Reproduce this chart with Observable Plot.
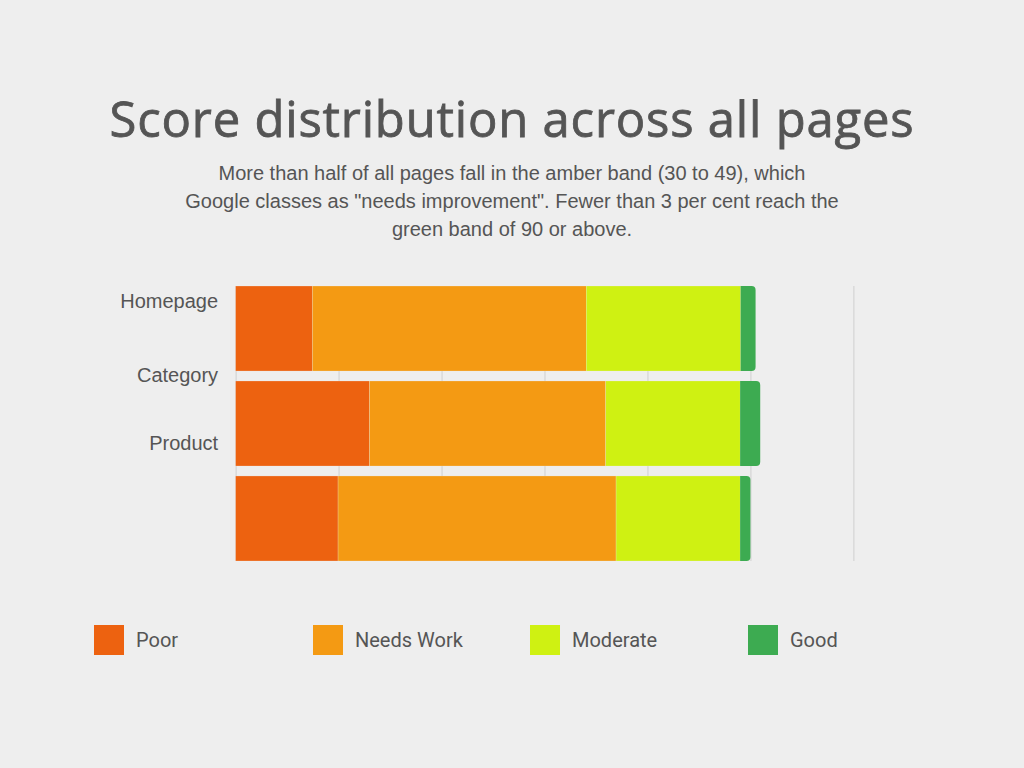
<!DOCTYPE html>
<html>
<head>
<meta charset="utf-8">
<script src="https://cdn.jsdelivr.net/npm/d3@7"></script>
<script src="https://cdn.jsdelivr.net/npm/@observablehq/plot@0.6"></script>
<style>
  html, body { margin: 0; padding: 0; background: #eeeeee; }
  body { width: 1024px; height: 768px; position: relative; overflow: hidden; }
  #title { position: absolute; left: 0; width: 1024px; top: 85px; text-align: center;
    font-family: "Open Sans", sans-serif; font-weight: 400; font-size: 49px; color: #555555; letter-spacing: 0.8px;
    -webkit-text-stroke: 0.8px #555555; }
  #subtitle { position: absolute; left: 0; width: 1024px; top: 159px; text-align: center;
    font-family: "Liberation Sans", Arial, sans-serif; font-size: 20px; line-height: 28px; color: #555555; }
  #chart { position: absolute; left: 0; top: 0; }
  #legend { position: absolute; top: 625px; left: 0; width: 1024px; height: 30px;
    font-family: Roboto, sans-serif; font-size: 20px; color: #555555; }
  .item { position: absolute; top: 0; height: 30px; display: flex; align-items: center; }
  .sw { width: 30px; height: 30px; margin-right: 12px; }
</style>
</head>
<body>
<div id="title">Score distribution across all pages</div>
<div id="subtitle">More than half of all pages fall in the amber band (30 to 49), which<br>Google classes as "needs improvement". Fewer than 3 per cent reach the<br>green band of 90 or above.</div>
<div id="chart"></div>
<div id="legend"></div>
<script>
const pageTypes = ["Homepage", "Category", "Product"];
const bands = ["Poor", "Needs Work", "Moderate", "Good"];
const bandColors = ["#ED6210", "#F49A13", "#CFF112", "#3DAB51"];
const poor      = [14.9, 26.0, 19.9];
const needsWork = [53.2, 45.9, 54.0];
const moderate  = [30.0, 26.1, 24.1];
const good      = [2.9, 3.9, 2.0];
const xTicks = [0, 20, 40, 60, 80, 100, 120];

// build stacked table from the arrays
const series = [poor, needsWork, moderate, good];
const rows = [];
pageTypes.forEach((p, i) => {
  let start = 0;
  bands.forEach((b, j) => {
    const v = series[j][i];
    rows.push({page: p, band: b, x1: start, x2: start + v});
    start += v;
  });
});

const labelShift = [-27, -48, -75];

const marks = [
  Plot.gridX(xTicks, {stroke: "#cfcfcf", strokeOpacity: 1, strokeWidth: 1}),
  Plot.barX(rows.filter(d => d.band !== "Good"), {
    y: "page", x1: "x1", x2: "x2", fill: "band",
    stroke: "#eeeeee", strokeWidth: 0.4, strokeOpacity: 0.6
  }),
  Plot.barX(rows.filter(d => d.band === "Good"), {
    y: "page", x1: "x1", x2: "x2", fill: "band", rx2: 4
  })
];
pageTypes.forEach((p, i) => {
  marks.push(Plot.text([p], {
    y: d => d, frameAnchor: "left", dx: -18, dy: labelShift[i], textAnchor: "end",
    fontSize: 20, fill: "#555555", fontFamily: "Liberation Sans, Arial, sans-serif"
  }));
});

const chart = Plot.plot({
  width: 1024,
  height: 768,
  marginLeft: 235.6,
  marginRight: 170.6,
  marginTop: 286,
  marginBottom: 207,
  style: {background: "transparent", overflow: "visible"},
  x: {domain: [0, 120], axis: null},
  y: {domain: pageTypes, axis: null, paddingInner: 0.105, paddingOuter: 0, round: false},
  color: {domain: bands, range: bandColors},
  marks
});
document.getElementById("chart").append(chart);

const legend = document.getElementById("legend");
const legendLeft = [94, 313, 530, 748];
bands.forEach((b, i) => {
  const it = document.createElement("div");
  it.className = "item";
  it.style.left = legendLeft[i] + "px";
  const sw = document.createElement("div");
  sw.className = "sw";
  sw.style.background = bandColors[i];
  const t = document.createElement("span");
  t.textContent = b;
  it.append(sw, t);
  legend.append(it);
});
</script>
</body>
</html>
